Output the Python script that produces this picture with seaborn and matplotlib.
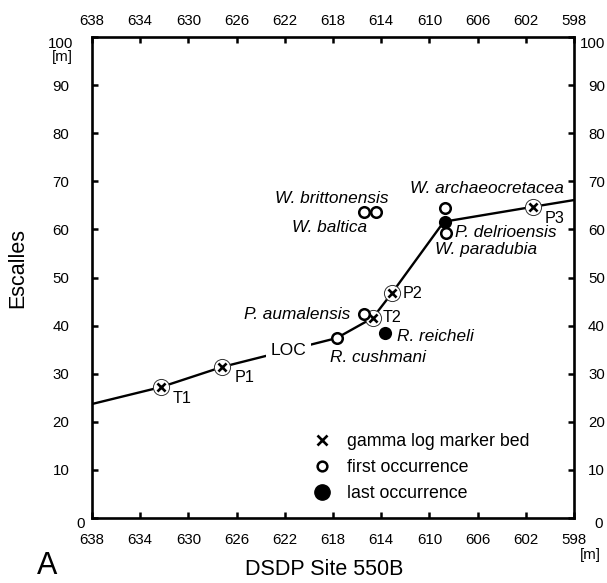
import numpy as np
import pandas as pd
import matplotlib
matplotlib.use("Agg")
import matplotlib.pyplot as plt
import seaborn as sns
from matplotlib.lines import Line2D
from matplotlib.transforms import ScaledTranslation

sns.set_theme(style="white")
plt.rcParams["font.family"] = ["Liberation Sans", "DejaVu Sans"]

# ---------------- data ----------------
# line of correlation (DSDP 550B depth [m] vs Escalles height [m])
loc_x = [638.0, 632.3, 627.2, 617.7, 614.7, 613.1, 608.8, 601.4, 598.0]
loc_y = [23.7, 27.2, 31.4, 37.4, 41.6, 46.8, 61.6, 64.7, 66.1]

# gamma log marker beds
bed_names = ["T1", "P1", "T2", "P2", "P3"]
bed_x = [632.3, 627.2, 614.7, 613.1, 601.4]
bed_y = [27.2, 31.4, 41.6, 46.8, 64.7]

# first occurrences
fo_names = ["R. cushmani", "P. aumalensis", "W. brittonensis", "W. baltica",
            "W. archaeocretacea", "W. paradubia"]
fo_x = [617.7, 615.4, 614.4, 615.4, 608.7, 608.6]
fo_y = [37.4, 42.4, 63.6, 63.6, 64.4, 59.3]

# last occurrences
lo_names = ["R. reicheli", "P. delrioensis"]
lo_x = [613.7, 608.7]
lo_y = [38.5, 61.5]

x_ticks = [638, 634, 630, 626, 622, 618, 614, 610, 606, 602, 598]
y_ticks = [0, 10, 20, 30, 40, 50, 60, 70, 80, 90, 100]
x_ticklabels = [str(v) for v in x_ticks]
y_ticklabels = [str(v) for v in y_ticks]

legend_labels = ["gamma log marker bed", "first occurrence", "last occurrence"]

# ---------------- figure ----------------
fig = plt.figure(figsize=(6.07, 5.83), dpi=100)
ax = fig.add_axes([92 / 607, 1 - 518 / 583, (574 - 92) / 607, (518 - 37) / 583])
ax.set_facecolor("white")

loc_df = pd.DataFrame({"x": loc_x, "y": loc_y})
sns.lineplot(data=loc_df, x="x", y="y", sort=False, estimator=None,
             color="black", linewidth=1.7, ax=ax, zorder=2)

bed_df = pd.DataFrame({"x": bed_x, "y": bed_y, "name": bed_names})
fo_df = pd.DataFrame({"x": fo_x, "y": fo_y, "name": fo_names})
lo_df = pd.DataFrame({"x": lo_x, "y": lo_y, "name": lo_names})

# marker beds: thin circle + bold x
sns.scatterplot(data=bed_df, x="x", y="y", marker="o", s=135, color="white",
                edgecolor="#333333", linewidth=0.7, ax=ax, zorder=3)
sns.scatterplot(data=bed_df, x="x", y="y", marker="x", s=34, color="black",
                linewidth=1.9, ax=ax, zorder=4)
# first occurrence: open circles
sns.scatterplot(data=fo_df, x="x", y="y", marker="o", s=58, color="white",
                edgecolor="black", linewidth=1.8, ax=ax, zorder=5)
# last occurrence: filled circles
sns.scatterplot(data=lo_df, x="x", y="y", marker="o", s=90, color="black",
                edgecolor="black", linewidth=0, ax=ax, zorder=5)

ax.set_xlim(638, 598)
ax.set_ylim(0, 100)
ax.set_xticks(x_ticks)
ax.set_xticklabels(x_ticklabels)
ax.set_yticks(y_ticks)
ax.set_yticklabels(y_ticklabels)

for sp in ax.spines.values():
    sp.set_visible(True)
    sp.set_color("black")
    sp.set_linewidth(1.9)

ax.tick_params(axis="both", which="major", direction="in", length=4,
               width=1.8, color="black", labelsize=10.8, labelcolor="black",
               top=True, right=True, labeltop=True, labelright=True,
               bottom=True, left=True, labelbottom=True, labelleft=True)
ax.tick_params(axis="x", pad=10.5)
ax.tick_params(axis="y", pad=22.3)

dpi = fig.dpi
def shift(label, dx_px, dy_px):
    label.set_transform(label.get_transform() +
                        ScaledTranslation(dx_px / dpi, dy_px / dpi, fig.dpi_scale_trans))

for t in ax.xaxis.get_major_ticks():
    shift(t.label2, 0, -6)
for t in ax.yaxis.get_major_ticks():
    t.label1.set_horizontalalignment("center")
    t.label2.set_horizontalalignment("right")
yt = ax.yaxis.get_major_ticks()
shift(yt[0].label1, 20, -4)
shift(yt[0].label2, -2, -4)
shift(yt[-1].label1, 0, -5)
shift(yt[-1].label2, 0, -5)

ax.set_xlabel("DSDP Site 550B", fontsize=15.5, color="black")
ax.xaxis.set_label_coords(0.481, -0.086)
ax.set_ylabel("Escalles", fontsize=15.5, color="black")
ax.yaxis.set_label_coords(-0.133, 0.52)

# unit labels
ax.text(-0.062, 0.958, "[m]", transform=ax.transAxes, ha="center", va="center",
        fontsize=10.8, color="black")
ax.text(1.033, -0.077, "[m]", transform=ax.transAxes, ha="center", va="center",
        fontsize=10.8, color="black")

# ---------------- annotations ----------------
ann_fs = 12.4
bed_offsets = {"T1": (12, -11), "P1": (12, -11), "T2": (10, 0), "P2": (11, -1),
               "P3": (12, -12)}
for n, x, y in zip(bed_names, bed_x, bed_y):
    ax.annotate(n, (x, y), xytext=bed_offsets[n], textcoords="offset pixels",
                ha="left", va="center", fontsize=11.6, color="black", zorder=6)

sp_style = {
    "R. cushmani": ((-7, -19), "left"),
    "P. aumalensis": ((-14, 0), "right"),
    "W. brittonensis": ((12, 14), "right"),
    "W. baltica": ((3, -15), "right"),
    "W. archaeocretacea": ((42, 20), "center"),
    "W. paradubia": ((-11, -17), "left"),
    "R. reicheli": ((12, -4), "left"),
    "P. delrioensis": ((10, -10), "left"),
}
for names, xs, ys in ((fo_names, fo_x, fo_y), (lo_names, lo_x, lo_y)):
    for n, x, y in zip(names, xs, ys):
        off, ha = sp_style[n]
        ax.annotate(n, (x, y), xytext=off, textcoords="offset pixels",
                    ha=ha, va="center", fontsize=ann_fs, style="italic",
                    color="black", zorder=6)

ax.text(621.7, 34.8, "LOC", ha="center", va="center", fontsize=12.6,
        color="black", zorder=2.5,
        bbox=dict(boxstyle="square,pad=0.25", fc="white", ec="none"))

# ---------------- legend ----------------
handles = [
    Line2D([], [], ls="none", marker="x", markersize=6.5, mew=1.9, color="black"),
    Line2D([], [], ls="none", marker="o", markersize=7.0, mew=1.8,
           mfc="white", mec="black"),
    Line2D([], [], ls="none", marker="o", markersize=11, mfc="black", mec="black"),
]
leg = ax.legend(handles, legend_labels, loc="upper left",
                bbox_to_anchor=(0.459, 0.176), frameon=False, fontsize=12.8,
                handlelength=1.0, handletextpad=0.9, labelspacing=0.5,
                borderpad=0, borderaxespad=0)
for t in leg.get_texts():
    t.set_color("black")

# panel letter (kept fully inside the canvas)
fig.text(47 / 607, 2 / 583, "A", ha="center", va="bottom", fontsize=22,
         color="black")

fig.savefig("out.png", dpi=100)
